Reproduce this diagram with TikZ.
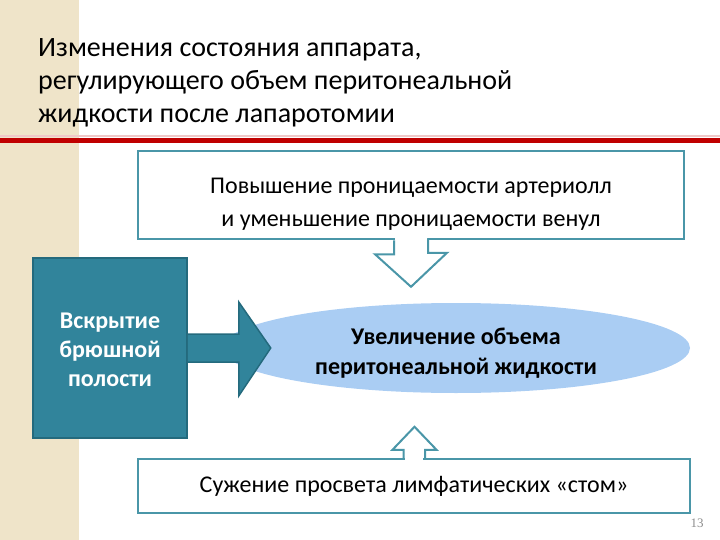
\documentclass[tikz,border=0pt]{standalone}
\usepackage{fontspec}
\setmainfont{Carlito}
\newfontfamily\numfont{Liberation Serif}
\usetikzlibrary{calc,shapes.geometric}
\definecolor{beige}{HTML}{EFE4C9}
\definecolor{redline}{HTML}{C00000}
\definecolor{pinkline}{HTML}{F0C8C8}
\definecolor{tealfill}{HTML}{31849B}
\definecolor{tealdark}{HTML}{246A7D}
\definecolor{boxline}{HTML}{4A96A8}
\definecolor{ellfill}{HTML}{AACDF3}
\definecolor{numgray}{HTML}{8C8C8C}
\tikzset{
  outlinebox/.style={draw=boxline, line width=2.5pt, fill=white, inner sep=0pt, align=center,
     font=\fontsize{24}{33}\selectfont},
  hollowarrow/.style={draw=boxline, line width=2pt, line join=miter},
  solidarrow/.style={fill=tealfill, draw=tealdark, line width=1.5pt, line join=miter},
}
\begin{document}
\begin{tikzpicture}[x=1pt,y=-1pt]
\useasboundingbox (0,0) rectangle (720,540);
% background
\fill[beige] (0,0) rectangle (79,540);
\fill[pinkline] (0,135.5) rectangle (720,137.5);
\fill[redline] (0,138) rectangle (720,143.5);
% title
\node[anchor=north west, align=left, inner sep=0pt, font=\fontsize{28}{33}\selectfont] (title) at (38,38)
  {Изменения состояния аппарата,\\регулирующего объем перитонеальной\\жидкости после лапаротомии};
% top box
\node[outlinebox, minimum width=546, minimum height=88] (top) at (411,195)
  {\rule{0pt}{34pt}Повышение проницаемости артериолл\\и уменьшение проницаемости венул};
% bottom box
\node[outlinebox, minimum width=552, minimum height=54] (bot) at (414,486)
  {Сужение просвета лимфатических «стом»};
% ellipse
\node[ellipse, fill=ellfill, minimum width=468, minimum height=90, inner sep=0pt, align=center,
   font=\bfseries\fontsize{24}{30}\selectfont] (ell) at (456,348)
  {\rule{0pt}{26pt}Увеличение объема\\перитонеальной жидкости};
% left box
\node[fill=tealfill, draw=tealdark, line width=1.5pt, minimum width=154, minimum height=180, inner sep=0pt,
   align=center, text=white, font=\bfseries\fontsize{24}{29}\selectfont] (left) at (110,348)
  {\rule{0pt}{20pt}Вскрытие\\брюшной\\полости};
% down arrow (top -> ellipse)
\fill[white] ($(top.south)+(-16,-2)$) rectangle ($(top.south)+(16,2)$);
\draw[hollowarrow, fill=white] ($(top.south)+(-17,0)$) -- ++(0,14) -- ++(-19,0) -- ($(ell.north)+(-45,-16)$) coordinate (dtip)
   -- ++(36,-34) -- ++(-19,0) -- ++(0,-14);
% up arrow (bottom -> ellipse)
\fill[white] ($(bot.north)+(-9,-2)$) rectangle ($(bot.north)+(9,2)$);
\draw[hollowarrow, fill=white] ($(bot.north)+(-10.5,0)$) -- ++(0,-8) -- ++(-11,0) -- ++(22,-23)
   -- ++(22,23) -- ++(-11.5,0) -- ++(0,8);
% right arrow (left box -> ellipse)
\draw[solidarrow] ($(left.east)+(0,-14)$) -- ++(51,0) -- ++(0,-32) -- ++(32,46) -- ++(-32,48) -- ++(0,-34) -- ++(-51,0);
% page number
\node[font=\numfont\fontsize{13}{13}\selectfont, text=numgray] (num) at (697,523) {13};
\end{tikzpicture}
\end{document}
